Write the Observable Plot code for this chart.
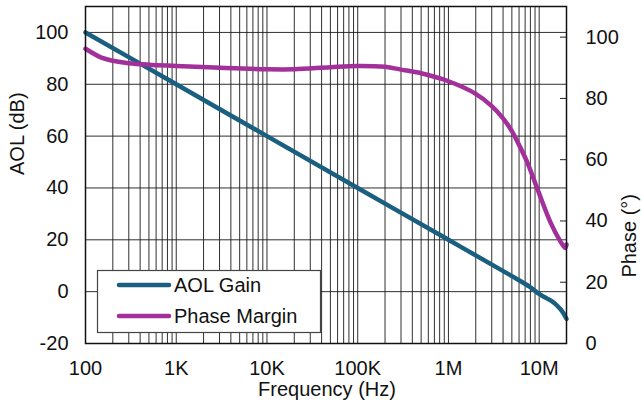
<!DOCTYPE html>
<html><head><meta charset="utf-8">
<script src="https://cdn.jsdelivr.net/npm/d3@7"></script>
<script src="https://cdn.jsdelivr.net/npm/@observablehq/plot@0.6"></script>
<style>body{margin:0;background:#fff}</style>
</head><body><div id="chart"></div>
<script>
// AOL gain (dB) vs frequency (Hz)
const gainFreq = [100, 1e3, 1e4, 1e5, 1e6, 5e6, 8e6, 1e7, 1.2e7, 1.43e7, 1.7e7, 1.85e7, 2e7];
const gainDb   = [100, 80, 60, 40, 20, 6, 1.7, -0.9, -2.5, -4.1, -6.6, -8.3, -10.5];
// Phase margin (deg) vs frequency (Hz)
const phaseFreq = [100, 150, 200, 300, 500, 1e3, 3e3, 1e4, 2e4, 5e4, 1e5, 2e5, 3e5, 5e5, 1e6, 2e6, 3e6, 4e6, 5e6, 6e6, 7.3e6, 9.6e6, 1.32e7, 1.7e7, 1.93e7, 2e7];
const phaseDeg  = [96.2, 93.3, 92.3, 91.5, 91, 90.6, 90, 89.5, 89.5, 90.2, 90.6, 90.3, 89.4, 88.2, 85.6, 81.5, 77.5, 73.5, 69.3, 64.8, 59.5, 50.3, 39.8, 33.5, 31.2, 32.3];
// Axis ticks
const xTicks = [100, 1e3, 1e4, 1e5, 1e6, 1e7];
const xTickLabels = ["100", "1K", "10K", "100K", "1M", "10M"];
const leftTicks = [-20, 0, 20, 40, 60, 80, 100];
const rightTicks = [0, 20, 40, 60, 80, 100];
const leftDomain = [-20, 110];
const rightDomain = [0, 110];
const series = ["AOL Gain", "Phase Margin"];
const colors = ["#1a5f80", "#a3309a"];

// map phase (right axis) into left-axis units
const toLeft = p => leftDomain[0] + (p - rightDomain[0]) * (leftDomain[1] - leftDomain[0]) / (rightDomain[1] - rightDomain[0]);
const fromLeft = v => rightDomain[0] + (v - leftDomain[0]) * (rightDomain[1] - rightDomain[0]) / (leftDomain[1] - leftDomain[0]);

const gainData = gainFreq.map((f, i) => ({f, v: gainDb[i]}));
const phaseData = phaseFreq.map((f, i) => ({f, v: phaseDeg[i]}));

// vertical grid at 1..9 x each decade
const gridXs = [];
for (let d = 100; d <= 1e7; d *= 10) for (let m = 1; m <= 9; m++) { const v = d * m; if (v <= 2e7) gridXs.push(v); }

const font = "'Liberation Sans', Arial, Helvetica, sans-serif";
const fs = 20;

const chart = Plot.plot({
  width: 641, height: 412,
  marginLeft: 85, marginRight: 75, marginTop: 6, marginBottom: 69,
  x: {type: "log", domain: [100, 2e7]},
  y: {domain: leftDomain},
  style: {fontFamily: font, fontSize: fs + "px", color: "#111", background: "#fff"},
  marks: [
    Plot.gridX(gridXs, {stroke: "#1a1a1a", strokeOpacity: 0.9, strokeWidth: 1}),
    Plot.gridY(leftTicks, {stroke: "#1a1a1a", strokeOpacity: 0.9, strokeWidth: 1}),
    Plot.gridY(rightTicks.map(toLeft), {insetLeft: 475, stroke: "#222", strokeOpacity: 1}),
    Plot.line(gainData, {x: "f", y: "v", stroke: colors[0], strokeWidth: 4.5, curve: "catmull-rom"}),
    Plot.line(phaseData, {x: "f", y: d => toLeft(d.v), stroke: colors[1], strokeWidth: 4.5, curve: "catmull-rom"}),
    Plot.frame({stroke: "#111", strokeWidth: 1.5}),
    Plot.axisX(xTicks, {tickSize: 0, tickPadding: 17, label: null, tickFormat: d => xTickLabels[xTicks.indexOf(d)], fontSize: fs}),
    Plot.axisY(leftTicks, {anchor: "left", tickSize: 0, tickPadding: 17, label: null, tickFormat: d => String(d), fontSize: fs}),
    Plot.axisY(rightTicks.map(toLeft), {anchor: "right", tickSize: 0, tickPadding: 19, label: null, tickFormat: d => String(Math.round(fromLeft(d))), fontSize: fs}),
    Plot.text(["AOL (dB)"], {frameAnchor: "left", dx: -68, rotate: -90, fontSize: fs, fill: "#111"}),
    Plot.text(["Phase (°)"], {frameAnchor: "right", dx: 63, dy: 19, rotate: -90, fontSize: fs, fill: "#111"}),
    Plot.text(["Frequency (Hz)"], {frameAnchor: "bottom", dx: 1, dy: 52, fontSize: fs, fill: "#111"})
  ]
});
document.getElementById("chart").appendChild(chart);

// legend box
const svg = d3.select(chart);
const lg = svg.append("g").attr("font-family", font).attr("font-size", 20).attr("text-anchor", "start");
lg.append("rect").attr("x", 97.5).attr("y", 270.5).attr("width", 223).attr("height", 62)
  .attr("fill", "#fff").attr("stroke", "#444").attr("stroke-width", 1.2);
series.forEach((s, i) => {
  const y = 285 + i * 31;
  lg.append("line").attr("x1", 119).attr("x2", 169).attr("y1", y).attr("y2", y)
    .attr("stroke", colors[i]).attr("stroke-width", 4.5).attr("stroke-linecap", "round");
  lg.append("text").attr("x", 174).attr("y", y + 7).attr("fill", "#111").attr("text-anchor", "start").text(s);
});
</script></body></html>
